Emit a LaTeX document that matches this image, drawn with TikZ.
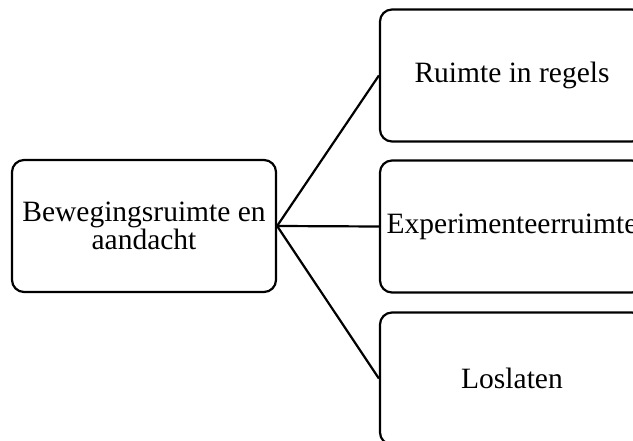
\documentclass[tikz,border=0pt]{standalone}
\usepackage{fontspec}
\setmainfont{Liberation Serif}
\begin{document}
\begin{tikzpicture}[x=1pt,y=-1pt,
  box/.style={draw=black, line width=2.2pt, rounded corners=12pt, fill=white,
    minimum width=264pt, minimum height=132pt, inner sep=0pt,
    align=center, font=\fontsize{29.5}{28}\selectfont},
  link/.style={draw=black, line width=2.2pt}]
  \useasboundingbox (0,0) rectangle (633,441);
  \clip (0,0) rectangle (633,441);
  \node[box] (root) at (144,226) {Bewegingsruimte en\\aandacht};
  \node[box] (rules) at (512,75.5) {Ruimte in regels};
  \node[box] (exper) at (512,226.5) {Experimenteerruimte};
  \node[box] (letgo) at (512,378.5) {Loslaten};
  \draw[link] (root.east) -- (rules.west);
  \draw[link] (root.east) -- (exper.west);
  \draw[link] (root.east) -- (letgo.west);
\end{tikzpicture}
\end{document}
